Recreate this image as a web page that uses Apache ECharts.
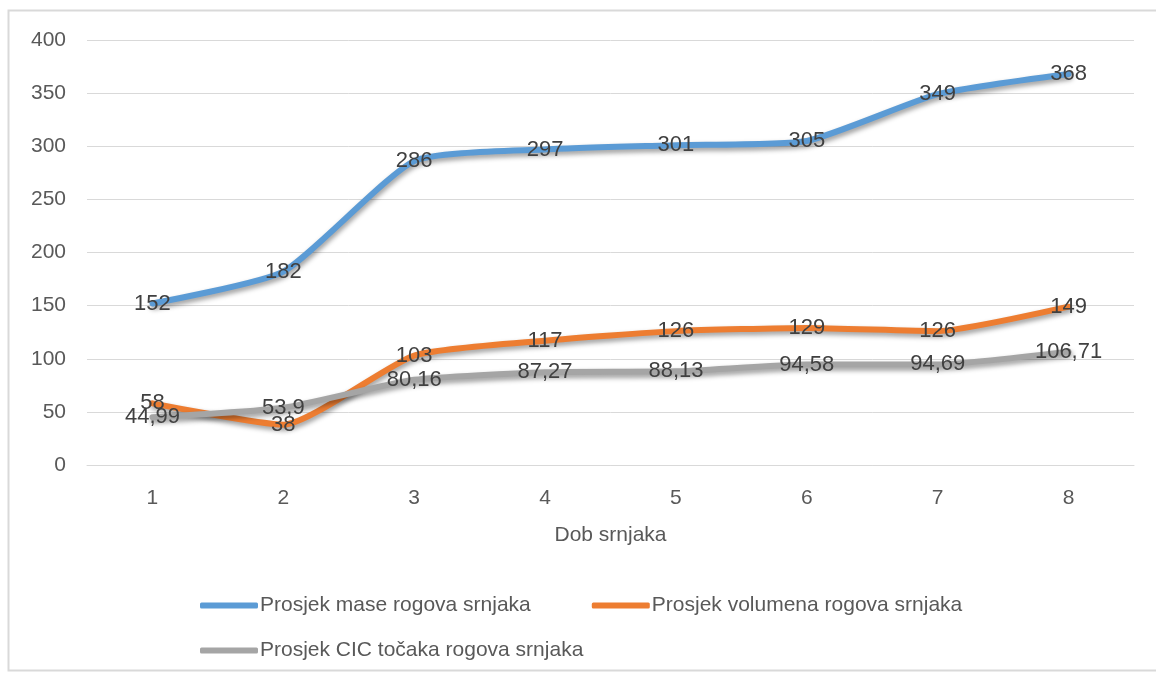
<!DOCTYPE html>
<html>
<head>
<meta charset="utf-8">
<script src="https://cdn.jsdelivr.net/npm/echarts@6/dist/echarts.min.js"></script>
<style>
  html, body { margin: 0; padding: 0; background: #fff; }
  #chart { width: 1156px; height: 677px; }
</style>
</head>
<body>
<div id="chart"></div>
<script>
// chart data
const categories = ['1', '2', '3', '4', '5', '6', '7', '8']
const masaValues = [152, 182, 286, 297, 301, 305, 349, 368]
const volumenValues = [58, 38, 103, 117, 126, 129, 126, 149]
const cicValues = [44.99, 53.9, 80.16, 87.27, 88.13, 94.58, 94.69, 106.71]
const seriesNames = [
  'Prosjek mase rogova srnjaka',
  'Prosjek volumena rogova srnjaka',
  'Prosjek CIC točaka rogova srnjaka'
]
const colors = ['#5B9BD5', '#ED7D31', '#A5A5A5']

const chart = echarts.init(document.getElementById('chart'))
const font = 'Liberation Sans'

function makeSeries(name, data, color) {
  return {
    name: name,
    type: 'line',
    data: data,
    smooth: 0.18,
    showSymbol: true,
    symbol: 'circle',
    symbolSize: 2,
    lineStyle: {
      color: color,
      width: 6,
      cap: 'round',
      shadowColor: 'rgba(0,0,0,0.4)',
      shadowBlur: 5,
      shadowOffsetX: 1,
      shadowOffsetY: 3
    },
    itemStyle: { color: 'rgba(0,0,0,0)', borderWidth: 0 },
    label: {
      show: true,
      position: 'inside',
      offset: [0, 3],
      color: '#404040',
      fontFamily: font,
      fontSize: 22,
      formatter: p => String(p.value).replace('.', ',')
    },
    labelLayout: { hideOverlap: false },
    emphasis: { disabled: true },
    animation: false
  }
}

const legendText = { color: '#595959', fontSize: 21, padding: [0, 0, 0, -3], fontFamily: font }

chart.setOption({
  backgroundColor: '#fff',
  textStyle: { fontFamily: font },
  graphic: [{
    type: 'rect',
    shape: { x: 8.5, y: 10.5, width: 1160, height: 660 },
    style: { fill: 'none', stroke: '#d9d9d9', lineWidth: 2 },
    silent: true
  }],
  grid: {
    left: 87,
    right: 22,
    top: 40,
    height: 425
  },
  xAxis: {
    type: 'category',
    data: categories,
    boundaryGap: true,
    name: 'Dob srnjaka',
    nameLocation: 'middle',
    nameGap: 60,
    nameTextStyle: { color: '#595959', fontSize: 21, fontFamily: font },
    axisLine: { lineStyle: { color: '#d9d9d9', width: 1 } },
    axisTick: { show: false },
    axisLabel: { color: '#595959', fontSize: 21, margin: 23, fontFamily: font }
  },
  yAxis: {
    type: 'value',
    min: 0,
    max: 400,
    interval: 50,
    axisLine: { show: false },
    axisTick: { show: false },
    axisLabel: { color: '#595959', fontSize: 21, margin: 21, fontFamily: font },
    splitLine: { lineStyle: { color: '#d9d9d9', width: 1 } }
  },
  legend: [{
    data: [
      { name: seriesNames[0], itemStyle: { color: colors[0] } },
      { name: seriesNames[1], itemStyle: { color: colors[1] } }
    ],
    left: 195,
    top: 590,
    itemWidth: 58,
    itemHeight: 6,
    itemGap: 61,
    icon: 'roundRect',
    textStyle: legendText
  }, {
    data: [{ name: seriesNames[2], itemStyle: { color: colors[2] } }],
    left: 195,
    top: 635,
    itemWidth: 58,
    itemHeight: 6,
    icon: 'roundRect',
    textStyle: legendText
  }],
  series: [
    makeSeries(seriesNames[0], masaValues, colors[0]),
    makeSeries(seriesNames[1], volumenValues, colors[1]),
    makeSeries(seriesNames[2], cicValues, colors[2])
  ]
})
</script>
</body>
</html>
